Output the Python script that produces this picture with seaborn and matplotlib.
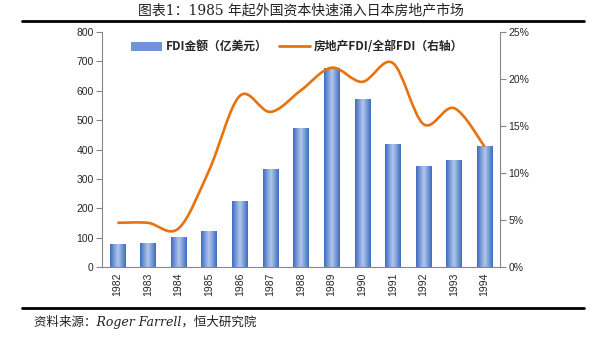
import numpy as np
import pandas as pd
import matplotlib
matplotlib.use("Agg")
import matplotlib.pyplot as plt
import seaborn as sns
from matplotlib.path import Path
from matplotlib.patches import PathPatch, Patch
from matplotlib.lines import Line2D
from matplotlib.colors import LinearSegmentedColormap

years = ["1982", "1983", "1984", "1985", "1986", "1987", "1988",
         "1989", "1990", "1991", "1992", "1993", "1994"]
fdi = [79, 83, 103, 123, 226, 333, 473, 677, 573, 420, 345, 365, 412]
share = [4.7, 4.7, 4.1, 10.3, 18.2, 16.5, 18.8, 21.2, 19.7, 21.7, 15.2, 16.9, 12.8]
left_ticks = [0, 100, 200, 300, 400, 500, 600, 700, 800]
right_ticks = [0, 5, 10, 15, 20, 25]

sns.set_theme(style="white")
plt.rcParams['font.family'] = ['Noto Sans CJK SC', 'DejaVu Sans']

fig = plt.figure(figsize=(6.01, 3.46), dpi=100)
ax = fig.add_axes([102/601, 1-267/346, (500-102)/601, (267-32)/346])

df = pd.DataFrame({"year": years, "fdi": fdi})
sns.barplot(data=df, x="year", y="fdi", ax=ax, color="#5B86D1", width=0.5,
            saturation=1, edgecolor="none")

# gradient fill on bars
cmap = LinearSegmentedColormap.from_list("g", ["#3E6CC2", "#B3C8EC", "#3E6CC2"])
grad = np.linspace(0, 1, 64).reshape(1, -1)
for p in ax.patches:
    x0, y0 = p.get_x(), p.get_y()
    w, h = p.get_width(), p.get_height()
    im = ax.imshow(grad, cmap=cmap, extent=[x0, x0 + w, y0, y0 + h],
                   aspect="auto", zorder=p.get_zorder() + 0.1, interpolation="bicubic")
    im.set_clip_path(p)

ax.set_xlim(-0.5, len(years) - 0.5)
ax.set_ylim(0, 800)
ax.set_yticks(left_ticks)
ax.set_yticklabels([str(v) for v in left_ticks], fontsize=7.5, family=['Liberation Sans'])
ax.set_xlabel("")
ax.set_ylabel("")
ax.set_xticks(range(len(years)))
ax.set_xticklabels(years, rotation=90, fontsize=7.5, family=['Liberation Sans'])
ax.set_xticks(np.arange(-0.5, len(years), 1), minor=True)
ax.tick_params(axis="x", which="major", length=0, pad=4)
ax.tick_params(axis="x", which="minor", length=4, width=0.8, color="#868686", direction="out")
ax.tick_params(axis="y", length=4, width=0.8, color="#868686", direction="out", left=True, pad=2)
for s in ["top", "right"]:
    ax.spines[s].set_visible(False)
for s in ["left", "bottom"]:
    ax.spines[s].set_color("#868686")
    ax.spines[s].set_linewidth(0.8)

ax2 = ax.twinx()
ax2.set_ylim(0, 25)
ax2.set_yticks(right_ticks)
ax2.set_yticklabels([f"{v}%" for v in right_ticks], fontsize=7.5, family=['Liberation Sans'])
ax2.tick_params(axis="y", length=4, width=0.8, color="#868686", direction="out", right=True, pad=2)
for s in ["top", "left", "bottom"]:
    ax2.spines[s].set_visible(False)
ax2.spines["right"].set_color("#868686")
ax2.spines["right"].set_linewidth(0.8)

# smoothed line (Catmull-Rom style Bezier through the data points)
xs = np.arange(len(share), dtype=float)
ys = np.array(share, dtype=float)
pts = np.column_stack([xs, ys])
verts = [tuple(pts[0])]
codes = [Path.MOVETO]
n = len(pts)
for i in range(n - 1):
    p0 = pts[i - 1] if i > 0 else pts[i]
    p1 = pts[i]
    p2 = pts[i + 1]
    p3 = pts[i + 2] if i + 2 < n else pts[i + 1]
    c1 = p1 + (p2 - p0) / 6.0
    c2 = p2 - (p3 - p1) / 6.0
    verts += [tuple(c1), tuple(c2), tuple(p2)]
    codes += [Path.CURVE4] * 3
ax2.add_patch(PathPatch(Path(verts, codes), facecolor="none",
                        edgecolor="#E8720C", linewidth=1.9, zorder=5))

handles = [Patch(facecolor="#6F95D8", edgecolor="none"),
           Line2D([0], [0], color="#E8720C", lw=2)]
labels = ["FDI金额（亿美元）", "房地产FDI/全部FDI（右轴）"]
leg = ax2.legend(handles, labels, loc="upper center", bbox_to_anchor=(0.49, 1.01),
                 ncol=2, frameon=False, handlelength=2.6,
                 handleheight=0.8, columnspacing=1.0, handletextpad=0.3,
                 prop={'family': ['Noto Sans CJK SC'], 'size': 8.5, 'weight': 'bold'})

fig.text(0.5, 1 - 10/346, "图表1：1985 年起外国资本快速涌入日本房地产市场",
         ha="center", va="center", fontsize=10, color="#222222",
         family=['DejaVu Serif', 'Noto Sans CJK SC'])
fig.add_artist(Line2D([22/601, 584/601], [1 - 21/346] * 2, color="black", lw=2))
fig.add_artist(Line2D([22/601, 584/601], [1 - 308/346] * 2, color="black", lw=2))
fig.text(34/601, 1 - 322/346, "资料来源：Roger Farrell，恒大研究院",
         ha="left", va="center", fontsize=9, style="italic", color="#222222",
         family=['DejaVu Serif', 'Noto Sans CJK SC'])

fig.savefig("out.png", dpi=100)
